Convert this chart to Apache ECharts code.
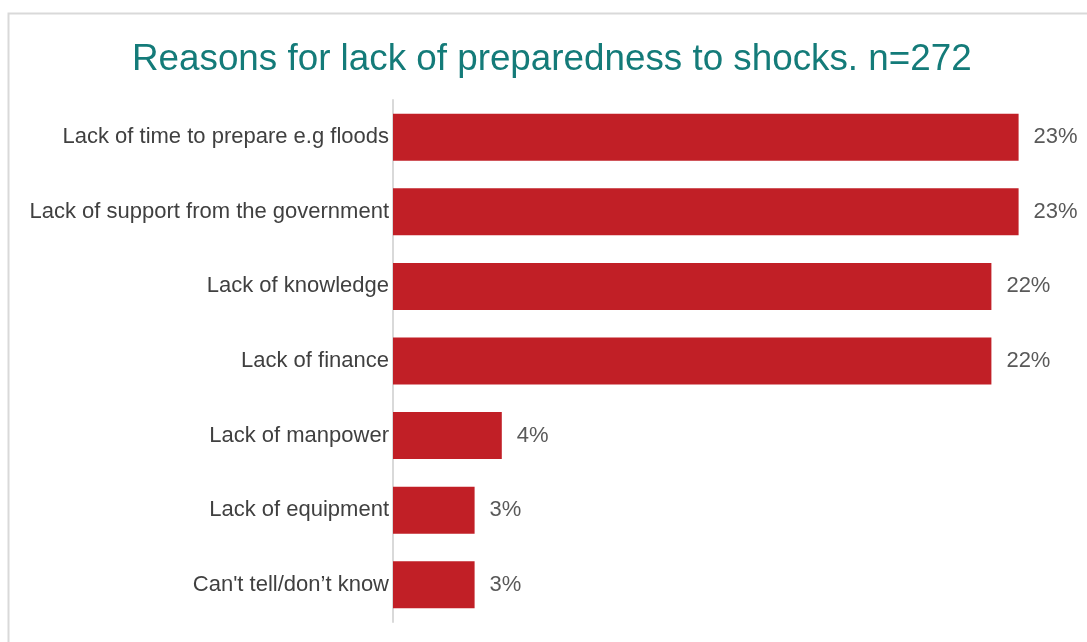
<!DOCTYPE html>
<html>
<head>
<meta charset="utf-8">
<script src="https://cdn.jsdelivr.net/npm/echarts@6/dist/echarts.min.js"></script>
<style>
  html, body { margin: 0; padding: 0; background: #ffffff; }
  #chart { width: 1087px; height: 642px; }
</style>
</head>
<body>
<div id="chart"></div>
<script>
// Reasons given for lack of preparedness, share of respondents (%)
const categories = [
  "Lack of time to prepare e.g floods",
  "Lack of support from the government",
  "Lack of knowledge",
  "Lack of finance",
  "Lack of manpower",
  "Lack of equipment",
  "Can't tell/don’t know"
];
const shares = [23, 23, 22, 22, 4, 3, 3];
const titleText = "Reasons for lack of preparedness to shocks. n=272";

const chart = echarts.init(document.getElementById('chart'), null, { renderer: 'canvas' });

const fontFamily = '"Liberation Sans", Arial, Helvetica, sans-serif';

chart.setOption({
  backgroundColor: '#ffffff',
  animation: false,
  title: {
    text: titleText,
    left: 132,
    top: 41,
    padding: 0,
    textStyle: {
      color: '#147B79',
      fontSize: 36.8,
      fontWeight: 'normal',
      fontFamily: fontFamily
    }
  },
  graphic: [{
    type: 'rect',
    shape: { x: 8.5, y: 13.5, width: 1200, height: 800 },
    style: { fill: 'none', stroke: '#d9d9d9', lineWidth: 2 },
    silent: true
  }],
  grid: {
    left: 393,
    right: 14,
    top: 100,
    bottom: 20,
    containLabel: false
  },
  xAxis: {
    type: 'value',
    min: 0,
    max: 25,
    show: false
  },
  yAxis: {
    type: 'category',
    data: categories,
    inverse: true,
    axisLine: { show: true, lineStyle: { color: '#d9d9d9', width: 2 } },
    axisTick: { show: false },
    axisLabel: {
      color: '#404040',
      fontSize: 22,
      fontFamily: fontFamily,
      margin: 4
    }
  },
  series: [{
    type: 'bar',
    data: shares,
    barCategoryGap: '37%',
    itemStyle: { color: '#C11F26' },
    label: {
      show: true,
      position: 'right',
      distance: 15,
      formatter: p => p.value + '%',
      color: '#595959',
      fontSize: 22,
      fontFamily: fontFamily
    }
  }]
});
</script>
</body>
</html>
